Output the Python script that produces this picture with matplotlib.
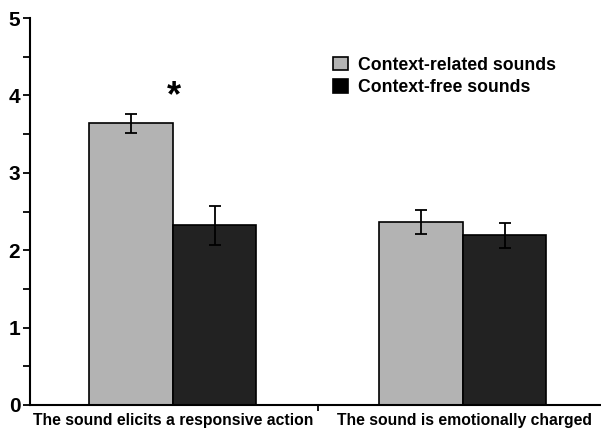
import matplotlib
matplotlib.use("Agg")
import matplotlib.pyplot as plt
import numpy as np
from matplotlib.patches import Patch

plt.rcParams['font.family'] = ['Liberation Sans', 'DejaVu Sans']
plt.rcParams['font.weight'] = 'bold'

categories = ["The sound elicits a responsive action", "The sound is emotionally charged"]
series_names = ["Context-related sounds", "Context-free sounds"]
related = [3.64, 2.37]
related_err = [0.12, 0.155]
free = [2.32, 2.19]
free_err = [0.25, 0.165]
yticks = [0, 1, 2, 3, 4, 5]

W, H = 601, 429
fig = plt.figure(figsize=(W / 100, H / 100), dpi=100)
ax = fig.add_axes([30 / W, (H - 405) / H, (W - 30) / W, (405 - 18) / H])

x = np.arange(len(categories))
bw = 0.288
light = '#b3b3b3'
dark = '#222222'
ax.bar(x - bw / 2, related, bw, color=light, edgecolor='black', linewidth=1.2, zorder=2)
ax.bar(x + bw / 2, free, bw, color=dark, edgecolor='black', linewidth=1.2, zorder=2)
ax.errorbar(x - bw / 2, related, yerr=related_err, fmt='none', ecolor='black',
            elinewidth=1.3, capsize=4, capthick=1.3, zorder=3)
ax.errorbar(x + bw / 2, free, yerr=free_err, fmt='none', ecolor='black',
            elinewidth=1.3, capsize=4, capthick=1.3, zorder=3)

ax.text(x[0] + 0.005, 3.98, '*', ha='center', va='center', fontsize=26, fontweight='bold')

ax.set_xlim(-0.493, 1.476)
ax.set_ylim(0, 5)
ax.set_yticks(yticks)
ax.set_yticklabels([str(v) for v in yticks], fontsize=15, fontweight='bold')
ax.set_yticks(np.arange(0.5, 5, 1.0), minor=True)
ax.tick_params(axis='y', which='both', direction='out', length=5, width=1.3, pad=2)
ax.set_xticks([0.5])
ax.set_xticklabels([''])
ax.tick_params(axis='x', direction='out', length=4, width=1.3)

for s in ['top', 'right']:
    ax.spines[s].set_visible(False)
for s in ['left', 'bottom']:
    ax.spines[s].set_linewidth(1.5)

label_x = [0.0, 1.005]
for lx, lab in zip(label_x, categories):
    ax.text(lx, -0.021, lab, transform=ax.get_xaxis_transform(), ha='center', va='top',
            fontsize=11.3, fontweight='bold')

handles = [Patch(facecolor=light, edgecolor='black', linewidth=1.2),
           Patch(facecolor='black', edgecolor='black', linewidth=1.2)]
leg = ax.legend(handles, series_names, loc='upper left', bbox_to_anchor=(0.519, 0.918),
                frameon=False, prop={'weight': 'bold', 'size': 12.7},
                handlelength=0.8, handleheight=0.8, handletextpad=0.6, labelspacing=0.3,
                borderaxespad=0)

fig.savefig('out.png', dpi=100)
